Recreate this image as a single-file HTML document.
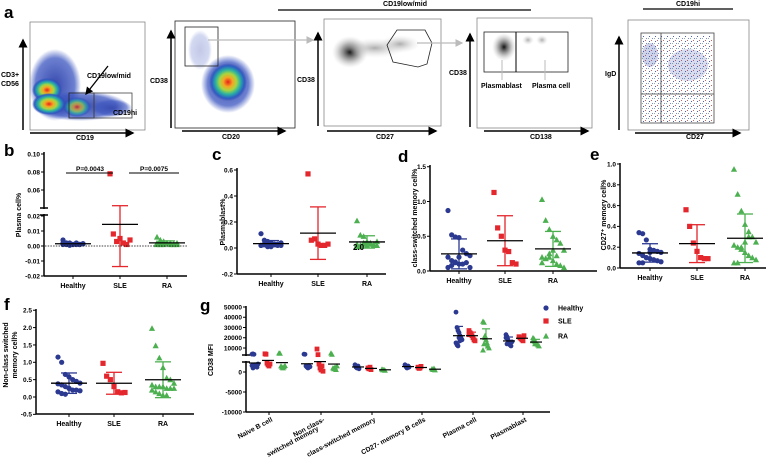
<!DOCTYPE html>
<html><head><meta charset="utf-8"><style>
html,body{margin:0;padding:0;background:#fff}
svg{display:block;font-family:"Liberation Sans",Arial,sans-serif}
</style></head><body>
<svg id="fig" width="777" height="467" viewBox="0 0 777 467">
<defs>
<radialGradient id="heat"><stop offset="0" stop-color="#e8201c"/><stop offset="0.25" stop-color="#f5a623"/><stop offset="0.45" stop-color="#a8d640"/><stop offset="0.65" stop-color="#2bb3a0"/><stop offset="0.85" stop-color="#2c5fc4"/><stop offset="1" stop-color="#2c3fa8" stop-opacity="0"/></radialGradient>
<radialGradient id="cloud"><stop offset="0" stop-color="#2c3fa8" stop-opacity="0.95"/><stop offset="0.75" stop-color="#3b55c0" stop-opacity="0.75"/><stop offset="1" stop-color="#3b55c0" stop-opacity="0"/></radialGradient>
<radialGradient id="gray"><stop offset="0" stop-color="#111"/><stop offset="0.5" stop-color="#888" stop-opacity="0.7"/><stop offset="1" stop-color="#ccc" stop-opacity="0"/></radialGradient>
<radialGradient id="lgray"><stop offset="0" stop-color="#999" stop-opacity="0.8"/><stop offset="1" stop-color="#ddd" stop-opacity="0"/></radialGradient>
<pattern id="dots" width="6" height="5" patternUnits="userSpaceOnUse"><rect x="1" y="1" width="1" height="1" fill="#3a4fa8"/><rect x="4" y="3" width="1" height="1" fill="#6a7fc8"/><rect x="3" y="0" width="1" height="1" fill="#b55"/><rect x="0" y="3" width="1" height="1" fill="#8a9"/></pattern>
<marker id="arr" markerWidth="6" markerHeight="6" refX="5" refY="3" orient="auto"><path d="M0,0 L6,3 L0,6z" fill="#000"/></marker>
<marker id="garr" markerWidth="6" markerHeight="6" refX="5" refY="3" orient="auto"><path d="M0,0 L6,3 L0,6z" fill="#bbb"/></marker>
</defs>

<!-- Panel a -->
<g font-size="7" font-weight="bold">
<text x="4" y="18" font-size="17">a</text>
<g>
<rect x="30" y="22" width="115" height="108" fill="#fff" stroke="#888" stroke-width="0.8"/>
<ellipse cx="55" cy="85" rx="26" ry="36" fill="url(#cloud)"/>
<ellipse cx="80" cy="106" rx="48" ry="15" fill="url(#cloud)"/>
<ellipse cx="112" cy="108" rx="20" ry="9" fill="url(#cloud)" opacity="0.8"/>
<ellipse cx="47" cy="90" rx="15" ry="12" fill="url(#heat)"/>
<ellipse cx="49" cy="104" rx="17" ry="11" fill="url(#heat)"/>
<ellipse cx="77" cy="107" rx="14" ry="10" fill="url(#heat)" opacity="0.7"/>
<rect x="69" y="93" width="25" height="25" fill="none" stroke="#222" stroke-width="0.8"/>
<rect x="94" y="93" width="38" height="25" fill="none" stroke="#444" stroke-width="0.8"/>
<line x1="108" y1="66" x2="86" y2="94" stroke="#000" stroke-width="1.3" marker-end="url(#arr)"/>
<text x="87" y="78">CD19low/mid</text>
<text x="113" y="115">CD19hi</text>
<line x1="23" y1="130" x2="23" y2="40" stroke="#000" stroke-width="1.5" marker-end="url(#arr)"/>
<line x1="30" y1="133" x2="133" y2="133" stroke="#000" stroke-width="1.5" marker-end="url(#arr)"/>
<text x="1" y="77">CD3+</text><text x="1" y="86">CD56</text>
<text x="76" y="140">CD19</text>
</g>
<g>
<rect x="175" y="21" width="120" height="107" fill="#fff" stroke="#222" stroke-width="0.8"/>
<ellipse cx="228" cy="84" rx="27" ry="29" fill="url(#cloud)"/>
<ellipse cx="200" cy="50" rx="12" ry="20" fill="url(#cloud)" opacity="0.3"/>
<ellipse cx="228" cy="82" rx="19" ry="19" fill="url(#heat)"/>
<rect x="185" y="27" width="33" height="39" fill="none" stroke="#222" stroke-width="0.8"/>
<line x1="208" y1="40" x2="313" y2="40" stroke="#bbb" stroke-width="1.3" marker-end="url(#garr)"/>
<line x1="171" y1="128" x2="171" y2="31" stroke="#000" stroke-width="1.5" marker-end="url(#arr)"/>
<line x1="182" y1="131" x2="285" y2="131" stroke="#000" stroke-width="1.5" marker-end="url(#arr)"/>
<text x="150" y="83">CD38</text><text x="222" y="139">CD20</text>
</g>
<g>
<rect x="324" y="19" width="117" height="107" fill="#fff" stroke="#888" stroke-width="0.8"/>
<ellipse cx="350" cy="52" rx="18" ry="16" fill="url(#gray)"/>
<ellipse cx="375" cy="48" rx="30" ry="10" fill="url(#lgray)"/>
<ellipse cx="400" cy="44" rx="20" ry="9" fill="url(#lgray)"/>
<polygon points="397,30 425,30 432,43 427,64 418,67 393,62 387,45" fill="none" stroke="#222" stroke-width="0.8"/>
<line x1="417" y1="43" x2="462" y2="43" stroke="#bbb" stroke-width="1.3" marker-end="url(#garr)"/>
<line x1="318" y1="126" x2="318" y2="33" stroke="#000" stroke-width="1.5" marker-end="url(#arr)"/>
<line x1="327" y1="131" x2="436" y2="131" stroke="#000" stroke-width="1.5" marker-end="url(#arr)"/>
<text x="297" y="82">CD38</text><text x="376" y="139">CD27</text>
</g>
<line x1="278" y1="10" x2="531" y2="10" stroke="#000" stroke-width="1.3"/>
<text x="405" y="6" text-anchor="middle">CD19low/mid</text>
<g>
<rect x="477" y="18" width="115" height="110" fill="#fff" stroke="#888" stroke-width="0.8"/>
<ellipse cx="504" cy="47" rx="12" ry="14" fill="url(#gray)"/>
<ellipse cx="528" cy="40" rx="6" ry="5" fill="url(#lgray)"/>
<ellipse cx="542" cy="40" rx="6" ry="5" fill="url(#lgray)"/>
<rect x="484" y="32" width="84" height="40" fill="none" stroke="#222" stroke-width="0.8"/>
<line x1="516" y1="32" x2="516" y2="72" stroke="#000" stroke-width="1"/>
<line x1="502" y1="60" x2="502" y2="80" stroke="#bbb"/><line x1="545" y1="60" x2="545" y2="80" stroke="#bbb"/>
<text x="481" y="88">Plasmablast</text><text x="532" y="88">Plasma cell</text>
<line x1="470" y1="127" x2="470" y2="34" stroke="#000" stroke-width="1.5" marker-end="url(#arr)"/>
<line x1="484" y1="131" x2="588" y2="131" stroke="#000" stroke-width="1.5" marker-end="url(#arr)"/>
<text x="449" y="75">CD38</text><text x="530" y="139">CD138</text>
</g>
<g>
<line x1="643" y1="9" x2="733" y2="9" stroke="#000" stroke-width="1.3"/>
<text x="676" y="6">CD19hi</text>
<rect x="628" y="20" width="121" height="110" fill="#fff" stroke="#888" stroke-width="0.8"/>
<rect x="642" y="36" width="70" height="86" fill="url(#dots)" opacity="0.9"/>
<ellipse cx="650" cy="55" rx="8" ry="12" fill="#3a4fa8" opacity="0.25"/>
<ellipse cx="688" cy="65" rx="20" ry="16" fill="#3a4fa8" opacity="0.2"/>
<rect x="641" y="33" width="73" height="90" fill="none" stroke="#444" stroke-width="0.8"/>
<line x1="661" y1="33" x2="661" y2="123" stroke="#444" stroke-width="0.8"/>
<line x1="641" y1="94" x2="714" y2="94" stroke="#444" stroke-width="0.8"/>
<line x1="619" y1="130" x2="619" y2="37" stroke="#000" stroke-width="1.5" marker-end="url(#arr)"/>
<line x1="635" y1="133" x2="740" y2="133" stroke="#000" stroke-width="1.5" marker-end="url(#arr)"/>
<text x="605" y="76">IgD</text><text x="686" y="139">CD27</text>
</g>
</g>
<g id="charts"></g>
</svg>
<script>
// ---------- data ----------
const groups = ["Healthy","SLE","RA"];
const bHealthy=[0.004,0.002,0.002,0.001,0.001,0.001,0.0015,0.002,0.001,0.0005,0.001,0.002,0.001,0.0015,0.001,0.002,0.001];
const bSLE=[0.078,0.008,0.003,0.005,0.002,0.001,0.004];
const bRA=[0.006,0.004,0.003,0.002,0.002,0.001,0.001,0.002,0.001,0.003,0.002,0.001,0.0015,0.002,0.001,0.002,0.001];
const bTicksLow=[0.02,0.01,0.00,-0.01,-0.02];
const bTicksHigh=[0.10,0.08,0.06];
const cHealthy=[0.11,0.06,0.05,0.04,0.03,0.03,0.02,0.02,0.03,0.02,0.01,0.03,0.02,0.04,0.02,0.03,0.01];
const cSLE=[0.57,0.06,0.07,0.03,0.02,0.02,0.03];
const cRA=[0.21,0.10,0.09,0.05,0.04,0.03,0.02,0.03,0.01,0.04,0.02,0.03,0.02,0.05,0.01,0.02,0.03,0.04];
const cTicks=[0.6,0.4,0.2,0.0,-0.2];
const dHealthy=[0.87,0.52,0.49,0.48,0.30,0.25,0.22,0.20,0.15,0.12,0.10,0.10,0.12,0.05,0.05,0.08,0.13,0.20];
const dSLE=[1.13,0.62,0.50,0.30,0.28,0.12,0.10];
const dRA=[1.03,0.73,0.60,0.50,0.45,0.40,0.30,0.20,0.18,0.20,0.15,0.10,0.08,0.05,0.12,0.18,0.25,0.30,0.22];
const dTicks=[1.5,1.0,0.5,0.0];
const eHealthy=[0.34,0.33,0.27,0.18,0.17,0.16,0.15,0.14,0.12,0.10,0.09,0.08,0.07,0.06,0.05,0.05,0.10,0.15];
const eSLE=[0.56,0.40,0.24,0.16,0.10,0.09,0.09];
const eRA=[0.95,0.71,0.55,0.42,0.35,0.30,0.25,0.22,0.20,0.18,0.15,0.12,0.10,0.08,0.05,0.05,0.20,0.25,0.30];
const eTicks=[1.0,0.8,0.6,0.4,0.2,0.0];
const fHealthy=[1.15,1.00,0.65,0.58,0.50,0.45,0.40,0.38,0.35,0.30,0.25,0.20,0.20,0.18,0.15,0.10,0.08,0.25];
const fSLE=[0.97,0.60,0.50,0.30,0.15,0.12,0.13];
const fRA=[1.98,1.48,1.13,0.85,0.55,0.50,0.40,0.35,0.30,0.30,0.30,0.25,0.25,0.25,0.20,0.15,0.10,0.05,0.05];
const fTicks=[2.5,2.0,1.5,1.0,0.5,0.0,-0.5];
const gCategories=["Naive B cell","Non class-|switched memory","class-switched memory","CD27- memory B cells","Plasma cell","Plasmablast"];
const gHealthy=[[4000,4200,3800,1800,1500,1200,2000,1600,1000,1400],[4000,3800,1500,1200,1000,1600,1300],[1800,1200,1000,1500,800],[1800,1300,1000,1500,1200],[45000,30000,27000,25000,22000,20000,18000,15000,13000,12000,20000,17000],[23000,21000,18000,15000,13000,12000,16000,20000,14000]];
const gSLE=[[4300,3900,2200,1800,1500,2000],[9000,3500,2000,1000,500,1500,200],[1000,800,1200,600],[1200,900,1000,1400],[27000,25000,24000,22000,20000,18000,17000,23000],[21000,20000,19000,18000,17000,22000]];
const gRA=[[5000,4800,1500,1200,1000,1300,1600],[5000,3800,1000,800,1200,600,1500],[700,500,600,400],[800,600,900,500],[36000,35000,22000,18000,15000,12000,10000,8000,14000,20000],[20000,18000,16000,15000,14000,13000,12000,17000,19000,14000]];
const gTicksHigh=[50000,40000,30000,20000,10000];
const gTicksLow=[0,-5000,-10000];

// ---------- helpers ----------
const NS="http://www.w3.org/2000/svg";
const root=document.getElementById('charts');
const COL=["#2b3990","#e3272d","#4cb050"];
function mk(tag,attrs,parent){const e=document.createElementNS(NS,tag);for(const k in attrs)e.setAttribute(k,attrs[k]);(parent||root).appendChild(e);return e;}
function txt(x,y,s,attrs,parent){const t=mk('text',Object.assign({x:x,y:y},attrs||{}),parent);t.textContent=s;return t;}
function mean(a){return a.reduce((p,c)=>p+c,0)/a.length;}
function sd(a){const m=mean(a);return Math.sqrt(a.reduce((p,c)=>p+(c-m)*(c-m),0)/(a.length-1));}
function marker(g,shape,x,y,col,s){
  let e;
  if(shape===0){e=mk('circle',{cx:x,cy:y,r:s,fill:col},g);}
  else if(shape===1){e=mk('rect',{x:x-s,y:y-s,width:2*s,height:2*s,fill:col},g);}
  else {e=mk('polygon',{points:`${x},${y-s-0.5} ${x+s+0.5},${y+s} ${x-s-0.5},${y+s}`,fill:col},g);}
  
  
  return e;
}
function jitter(i,n,w){ if(n<=1)return 0;const k=(i%7)-3;return k*w/3; }
function dotPlot(opt){
  const g=mk('g',{});
  
  
  const fs=6.5;
  mk('line',{x1:opt.ax,y1:opt.yTop,x2:opt.ax,y2:opt.yBot,stroke:'#000','stroke-width':1.5},g);
  mk('line',{x1:opt.ax,y1:opt.yBot,x2:opt.xEnd,y2:opt.yBot,stroke:'#000','stroke-width':1.5},g);
  opt.ticks.forEach(t=>{const y=opt.sy(t);
    mk('line',{x1:opt.ax-3,y1:y,x2:opt.ax,y2:y,stroke:'#000','stroke-width':1},g);
    const lab=txt(opt.ax-4,y+2.3,opt.fmt(t),{'font-size':fs,'text-anchor':'end','font-weight':'bold'},g);
    
    
  });
  groups.forEach((gn,i)=>{const x=opt.cx[i];
    mk('line',{x1:x,y1:opt.yBot,x2:x,y2:opt.yBot+3,stroke:'#000','stroke-width':1},g);
    const lab=txt(x,opt.yBot+12,gn,{'font-size':7,'text-anchor':'middle','font-weight':'bold'},g);
    
    
    const d=opt.data[i];
    d.forEach((v,j)=>marker(g,i,x+jitter(j,d.length,opt.jw||10),opt.sy(v),COL[i],2.6));
    const m=mean(d),s=sd(d);
    mk('line',{x1:x,y1:opt.sy(m+s),x2:x,y2:opt.sy(m-s),stroke:COL[i],'stroke-width':1.3},g);
    mk('line',{x1:x-8,y1:opt.sy(m+s),x2:x+8,y2:opt.sy(m+s),stroke:COL[i],'stroke-width':1.3},g);
    mk('line',{x1:x-8,y1:opt.sy(m-s),x2:x+8,y2:opt.sy(m-s),stroke:COL[i],'stroke-width':1.3},g);
    const ml=mk('line',{x1:x-18,y1:opt.sy(m),x2:x+18,y2:opt.sy(m),stroke:'#000','stroke-width':1.3},g);
    
    
  });
  const lines=opt.title.split('|');
  lines.forEach((l,k)=>{const tx=opt.tx+k*9;
    const t=txt(tx,opt.ty,l,{'font-size':7,'text-anchor':'middle','font-weight':'bold',transform:`rotate(-90 ${tx} ${opt.ty})`},g);
    
    
  });
  const L=txt(opt.lx,opt.ly,opt.letter,{'font-size':17,'font-weight':'bold'},g);
  
  
  return g;
}
const f2=v=>v.toFixed(2), f1=v=>v.toFixed(1);

function syB(v){ if(v<=0.02) return 246-v*1500; if(v>=0.04) return 154+(0.10-v)*900; return 216-(v-0.02)/0.02*8; }
const gb=dotPlot({name:'panel-b-plasma-cell',letter:'b',lx:4,ly:156,ax:44,yTop:152,yBot:276,xEnd:187,cx:[73,120,167],
  sy:syB,ticks:bTicksHigh.concat(bTicksLow),fmt:f2,data:[bHealthy,bSLE,bRA],title:'Plasma cell%',tx:21,ty:215,jw:10});
mk('rect',{x:40,y:209,width:8,height:5,fill:'#fff'},gb);
mk('line',{x1:40,y1:208,x2:48,y2:208,stroke:'#000','stroke-width':1.5},gb);
mk('line',{x1:40,y1:215,x2:48,y2:215,stroke:'#000','stroke-width':1.5},gb);
mk('line',{x1:45,y1:246,x2:187,y2:246,stroke:'#000','stroke-width':0.8,'stroke-dasharray':'1.5,1.2'},gb);
mk('line',{x1:66,y1:173,x2:113,y2:173,stroke:'#000','stroke-width':1},gb);
mk('line',{x1:129,y1:173,x2:179,y2:173,stroke:'#000','stroke-width':1},gb);
txt(90,171,'P=0.0043',{'font-size':6.5,'text-anchor':'middle','font-weight':'bold'},gb);
txt(154,171,'P=0.0075',{'font-size':6.5,'text-anchor':'middle','font-weight':'bold'},gb);

const gc=dotPlot({name:'panel-c-plasmablast',letter:'c',lx:212,ly:160,ax:237,yTop:168,yBot:274,xEnd:386,cx:[271,318,367],
  sy:v=>248-v*130,ticks:cTicks,fmt:f1,data:[cHealthy,cSLE,cRA],title:'Plasmablast%',tx:225,ty:222,jw:10});
txt(353,250,'2.0',{'font-size':8,'font-weight':'bold'},gc);

dotPlot({name:'panel-d-class-switched',letter:'d',lx:398,ly:162,ax:430,yTop:165,yBot:271,xEnd:597,cx:[459,505,553],
  sy:v=>271-v*69.5,ticks:dTicks,fmt:f1,data:[dHealthy,dSLE,dRA],title:'class-switched memory cell%',tx:417,ty:218,jw:11});

dotPlot({name:'panel-e-cd27-memory',letter:'e',lx:590,ly:160,ax:620,yTop:163,yBot:268,xEnd:766,cx:[650,697,745],
  sy:v=>268-v*104,ticks:eTicks,fmt:f1,data:[eHealthy,eSLE,eRA],title:'CD27⁺ memory cell%',tx:606,ty:215,jw:11});

dotPlot({name:'panel-f-non-class-switched',letter:'f',lx:4,ly:310,ax:36,yTop:309,yBot:414,xEnd:194,cx:[69,114,163],
  sy:v=>397-v*34.7,ticks:fTicks,fmt:f1,data:[fHealthy,fSLE,fRA],title:'Non-class switched|memory cell%',tx:8,ty:355,jw:11});

(function(){
  const g=mk('g',{});
  
  
  const sy=v=>{ if(v<=2500) return 372-v*0.004; if(v>=3000) return 348-(v-10000)*41/40000; return 362-(v-2500)/500*6.8; };
  const ax=246, yBot=412, xEnd=550, ticksX=[269,321,372,422,473,523], off=[-14,-1,13];
  mk('line',{x1:ax,y1:306,x2:ax,y2:yBot,stroke:'#000','stroke-width':1.5},g);
  mk('rect',{x:242,y:356,width:8,height:5,fill:'#fff'},g);
  mk('line',{x1:242,y1:355,x2:250,y2:355,stroke:'#000','stroke-width':1.5},g);
  mk('line',{x1:242,y1:362,x2:250,y2:362,stroke:'#000','stroke-width':1.5},g);
  mk('line',{x1:ax,y1:yBot,x2:xEnd,y2:yBot,stroke:'#000','stroke-width':1.5},g);
  gTicksHigh.concat(gTicksLow).forEach(t=>{const y=sy(t);
    mk('line',{x1:ax-3,y1:y,x2:ax,y2:y,stroke:'#000','stroke-width':1},g);
    const l=txt(ax-4,y+2.3,String(t),{'font-size':6.5,'text-anchor':'end','font-weight':'bold'},g);
    
    
  });
  const T=txt(213,360,'CD38 MFI',{'font-size':7,'text-anchor':'middle','font-weight':'bold',transform:'rotate(-90 213 360)'},g);
  
  
  const L=txt(200,311,'g',{'font-size':17,'font-weight':'bold'},g);
  
  
  const all=[gHealthy,gSLE,gRA];
  gCategories.forEach((c,ci)=>{const x=ticksX[ci];
    mk('line',{x1:x,y1:yBot,x2:x,y2:yBot+3,stroke:'#000','stroke-width':1},g);
    const parts=c.split('|');
    parts.forEach((p,k)=>{
      const tx=x+4-k*6, ty=yBot+9+k*9;
      const l=txt(tx,ty,p,{'font-size':6.8,'text-anchor':'end','font-weight':'bold',transform:`rotate(-28 ${tx} ${ty})`},g);
      
      
    });
    all.forEach((series,gi)=>{const d=series[ci];const cx=x+off[gi];
      d.forEach((v,j)=>marker(g,gi,cx+jitter(j,d.length,3),sy(v),COL[gi],2.4));
      const m=mean(d),s=sd(d);
      if(m>5000){
        mk('line',{x1:cx,y1:sy(m+s),x2:cx,y2:sy(m-s),stroke:COL[gi],'stroke-width':1.2},g);
        mk('line',{x1:cx-4,y1:sy(m+s),x2:cx+4,y2:sy(m+s),stroke:COL[gi],'stroke-width':1.2},g);
      }
      const ml=mk('line',{x1:cx-6,y1:sy(m),x2:cx+6,y2:sy(m),stroke:'#000','stroke-width':1.2},g);
      
      
    });
  });
  const lg=[308,321,336];
  groups.forEach((gn,i)=>{
    const item=mk('g',{},g);
    
    
    marker(item,i,546,lg[i],COL[i],2.6);
    txt(558,lg[i]+2.5,gn,{'font-size':7,'font-weight':'bold'},item);
  });
})();
</script>
</body></html>
